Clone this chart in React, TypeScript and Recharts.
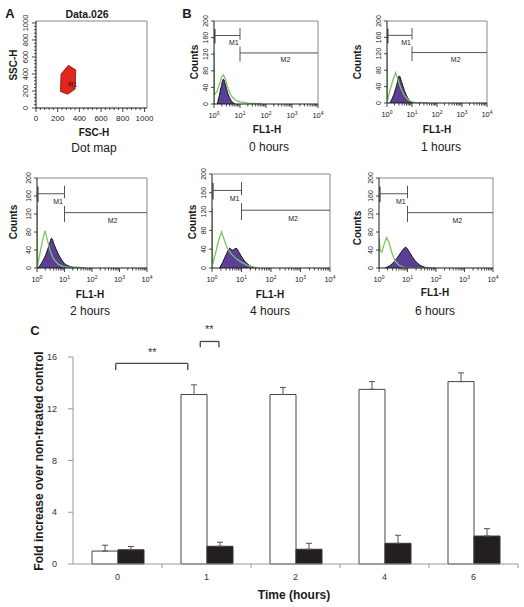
import React from 'react';
import {
  ComposedChart, Area, Line, Bar, Scatter, ErrorBar, XAxis, YAxis,
  ReferenceLine, ReferenceDot,
} from 'recharts';

const FONT = '"Liberation Sans", Arial, Helvetica, sans-serif';
const PURPLE = '#5a3e97';
const GREEN = '#7cc463';
const MARK = '#555';
const INK = '#1a1a1a';

// ---- panel A: gate R1 on FSC-H / SSC-H
const gateFsc = [299, 367, 360, 293, 225, 231, 299];
const gateSsc = [502, 447, 222, 163, 194, 400, 502];
const dotMajor = [0, 200, 400, 600, 800, 1000];
const dotMinor = [40, 80, 120, 160, 240, 280, 320, 360, 440, 480, 520, 560, 640, 680, 720, 760, 840, 880, 920, 960];

// ---- panel B: FL1-H histograms as [FL1-H, counts]
const fill0h = [[1.35, 0], [1.6, 20], [1.9, 42], [2.3, 60], [2.7, 48], [3.3, 28], [4.2, 12], [5.2, 4], [6.5, 0]];
const ctrl0h = [[1, 0], [1, 125], [1.04, 22], [1.3, 30], [1.7, 52], [2.0, 66], [2.3, 70], [2.7, 62], [3.3, 42], [4.2, 24], [5.5, 14], [7.5, 8], [10, 5], [20, 2], [40, 1], [70, 0]];
const fill1h = [[1.3, 0], [1.8, 18], [2.4, 42], [3.1, 66], [3.8, 52], [5, 30], [6.5, 14], [8.5, 4], [11, 0]];
const ctrl1h = [[1, 0], [1, 124], [1.04, 5], [1.3, 30], [1.7, 55], [2.2, 74], [2.7, 58], [3.5, 38], [5, 18], [7, 8], [10, 3], [15, 1], [44, 0]];
const fill2h = [[1.1, 0], [1.6, 15], [2.2, 33], [2.8, 52], [3.4, 66], [4.2, 52], [5.5, 35], [7.5, 20], [10, 10], [15, 4], [22, 1], [29, 0]];
const ctrl2h = [[1, 0], [1, 140], [1.05, 5], [1.3, 35], [1.6, 62], [1.95, 83], [2.4, 62], [3, 38], [4, 20], [6, 8], [9, 3], [13, 2], [30, 2], [56, 0]];
const fill4h = [[1.8, 0], [2.3, 12], [3, 28], [4, 42], [5, 38], [6.5, 42], [8.5, 32], [11, 20], [15, 10], [22, 3], [33, 0]];
const ctrl4h = [[1, 0], [1, 128], [1.05, 8], [1.3, 30], [1.7, 60], [2.1, 77], [2.6, 60], [3.3, 42], [4.5, 30], [6.5, 20], [10, 12], [15, 6], [25, 2], [36, 0]];
const fill6h = [[1.6, 0], [2.5, 6], [3.5, 15], [5, 28], [6.8, 40], [8.6, 46], [11, 38], [15, 24], [22, 11], [32, 4], [45, 1], [62, 0]];
const ctrl6h = [[1, 0], [1, 67], [1.1, 40], [1.25, 35], [1.5, 52], [1.85, 68], [2.2, 58], [2.8, 35], [3.6, 16], [5, 6], [8, 1], [20, 0], [92, 0]];
const countTicks = [0, 40, 80, 120, 160, 200];
const logMajor = [1, 10, 100, 1000, 10000];
const logMinor = [1, 10, 100, 1000].flatMap((d) => [2, 3, 4, 5, 6, 7, 8, 9].map((k) => k * d));
// markers M1 / M2 (FL1-H range, counts level)
const m1 = { from: 1.08, to: 10, level: 165, label: 'M1', lx: 5.8, ly: 147 };
const m2 = { from: 10, to: 10000, level: 123, label: 'M2', lx: 560, ly: 106 };

// ---- panel C
const times = ['0', '1', '2', '4', '6'];
const treated = [1.0, 13.1, 13.1, 13.5, 14.1];
const treatedErr = [0.45, 0.75, 0.55, 0.6, 0.67];
const blocked = [1.1, 1.37, 1.14, 1.6, 2.16];
const blockedErr = [0.25, 0.31, 0.46, 0.62, 0.57];
const foldTicks = [0, 4, 8, 12, 16];
const brackets = [
  { x1: 0.48, x2: 1.29, y: 15.5, drop: 0.5, sx: 0.89, sy: 16.35 },
  { x1: 1.43, x2: 1.64, y: 17.2, drop: 0.45, sx: 1.53, sy: 18.15 },
];

const toPts = (arr: number[][]) => arr.map(([x, n]) => ({ x, n }));

function Txt({ x, y, size, bold, rot, children }: any) {
  return (
    <div style={{
      position: 'absolute', left: x, top: y, fontFamily: FONT, fontSize: size,
      fontWeight: bold ? 'bold' : 'normal', color: INK, lineHeight: 1, whiteSpace: 'nowrap',
      transform: `translate(-50%, -50%)${rot ? ' rotate(-90deg)' : ''}`,
    }}>{children}</div>
  );
}

// label drawn at the centre of a reference dot
const centerText = (value: string, size: number, color: string) => (p: any) => {
  const vb = p.viewBox || {};
  const cx = (vb.x || 0) + (vb.width || 0) / 2;
  const cy = (vb.y || 0) + (vb.height || 0) / 2;
  return (
    <text x={cx} y={cy} dy={size * 0.35} textAnchor="middle" fontSize={size} fontFamily={FONT} fill={color}>
      {value}
    </text>
  );
};

function LogTick({ x, y, payload }: any) {
  const v = payload.value;
  const major = logMajor.includes(v);
  return (
    <g>
      <line x1={x} x2={x} y1={y} y2={y + (major ? 4 : 2.5)} stroke={INK} strokeWidth={0.8} />
      {major && (
        <text x={x} y={y + 14} textAnchor="middle" fontSize={7.5} fontFamily={FONT} fill={INK}>
          10<tspan dy={-3} fontSize={5}>{Math.round(Math.log10(v))}</tspan>
        </text>
      )}
    </g>
  );
}

function CountTick({ x, y, payload }: any) {
  return (
    <g>
      <line x1={x - 3} x2={x} y1={y} y2={y} stroke={INK} strokeWidth={0.8} />
      <text x={x - 6} y={y} transform={`rotate(-90 ${x - 6} ${y})`} textAnchor="middle"
        fontSize={7} fontFamily={FONT} fill={INK}>{payload.value}</text>
    </g>
  );
}

function DotXTick({ x, y, payload }: any) {
  const major = dotMajor.includes(payload.value);
  return (
    <g>
      <line x1={x} x2={x} y1={y} y2={y + (major ? 4 : 2)} stroke={INK} strokeWidth={0.8} />
      {major && <text x={x} y={y + 13} textAnchor="middle" fontSize={8} fontFamily={FONT} fill={INK}>{payload.value}</text>}
    </g>
  );
}

function DotYTick({ x, y, payload }: any) {
  const major = dotMajor.includes(payload.value);
  return (
    <g>
      <line x1={x - (major ? 4 : 2)} x2={x} y1={y} y2={y} stroke={INK} strokeWidth={0.8} />
      {major && <text x={x - 8} y={y} transform={`rotate(-90 ${x - 8} ${y})`} textAnchor="middle"
        fontSize={7.5} fontFamily={FONT} fill={INK}>{payload.value}</text>}
    </g>
  );
}

function Marker({ m }: any) {
  return (
    <>
      <ReferenceLine segment={[{ x: m.from, y: m.level }, { x: m.to, y: m.level }]} stroke={MARK} />
      <ReferenceDot x={m.lx} y={m.ly} r={0} fill="none" stroke="none" label={centerText(m.label, 7, INK)} />
    </>
  );
}

function Histo({ l, t, r, b, fill, ctrl }: any) {
  const W = r - l + 40;
  const H = b - t + 34;
  return (
    <div style={{ position: 'absolute', left: l - 28, top: t - 6 }}>
      <ComposedChart width={W} height={H} margin={{ top: 6, right: 12, bottom: 6, left: 8 }}>
        <XAxis dataKey="x" type="number" scale="log" domain={[1, 10000]} allowDataOverflow
          ticks={[...logMajor, ...logMinor]} interval={0} tick={LogTick} tickSize={0} tickMargin={0}
          tickLine={false} height={22} axisLine={{ stroke: INK }} />
        <YAxis type="number" domain={[0, 200]} allowDataOverflow ticks={countTicks} interval={0} tick={CountTick}
          tickSize={0} tickMargin={0} tickLine={false} width={20} axisLine={{ stroke: INK }} />
        <ReferenceLine y={200} stroke="#888" />
        <ReferenceLine x={10000} stroke="#888" />
        <Area data={toPts(fill)} dataKey="n" type="monotone" stroke="#111" strokeWidth={1}
          fill={PURPLE} fillOpacity={1} isAnimationActive={false} dot={false} />
        <Line data={toPts(ctrl)} dataKey="n" type="linear" stroke={GREEN} strokeWidth={1.3}
          dot={false} isAnimationActive={false} />
        <ReferenceLine segment={[{ x: m1.from, y: 146 }, { x: m1.from, y: 181 }]} stroke={MARK} strokeWidth={1.4} />
        <ReferenceLine segment={[{ x: m1.to, y: 155 }, { x: m1.to, y: 183 }]} stroke={MARK} />
        <ReferenceLine segment={[{ x: m2.from, y: 102 }, { x: m2.from, y: 138 }]} stroke={MARK} />
        <Marker m={m1} />
        <Marker m={m2} />
      </ComposedChart>
    </div>
  );
}

function DotMap() {
  const gate = gateFsc.map((x, i) => ({ x, y: gateSsc[i] }));
  return (
    <div style={{ position: 'absolute', left: 8, top: 15 }}>
      <ComposedChart width={147} height={113} margin={{ top: 6, right: 8, bottom: 4, left: 8 }}>
        <XAxis dataKey="x" type="number" domain={[0, 1023]} allowDataOverflow ticks={[...dotMajor, ...dotMinor]}
          interval={0} tick={DotXTick} tickSize={0} tickMargin={0} tickLine={false} height={16}
          axisLine={{ stroke: INK }} />
        <YAxis dataKey="y" type="number" domain={[0, 1023]} allowDataOverflow ticks={[...dotMajor, ...dotMinor]}
          interval={0} tick={DotYTick} tickSize={0} tickMargin={0} tickLine={false} width={20}
          axisLine={{ stroke: INK }} />
        <ReferenceLine y={1023} stroke="#888" />
        <ReferenceLine x={1023} stroke="#888" />
        <Scatter data={gate} line={{ fill: '#e2261d', stroke: '#7a1410', strokeWidth: 0.8 }}
          lineType="joint" shape={() => <g />} isAnimationActive={false} />
        <ReferenceDot x={339} y={272} r={0} fill="none" stroke="none" label={centerText('R1', 7, INK)} />
      </ComposedChart>
    </div>
  );
}

function FoldTick({ x, y, payload }: any) {
  return (
    <g>
      <line x1={x - 5} x2={x} y1={y} y2={y} stroke="#999" />
      <text x={x - 16} y={y + 3} textAnchor="end" fontSize={9} fontFamily={FONT} fill="#333">{payload.value}</text>
    </g>
  );
}

function TimeTick({ x, y, payload }: any) {
  const v = payload.value;
  if (Number.isInteger(v)) return <line x1={x} x2={x} y1={y} y2={y + 4} stroke="#999" />;
  return <text x={x} y={y + 16} textAnchor="middle" fontSize={9} fontFamily={FONT} fill="#333">{times[Math.floor(v)]}</text>;
}

function FoldChart() {
  // pos: centre of each time group on the numeric helper axis (group i spans i..i+1)
  const data = times.map((t, i) => ({
    t, pos: i + 0.5, w: treated[i], wErr: [0, treatedErr[i]], b: blocked[i], bErr: [0, blockedErr[i]],
  }));
  return (
    <div style={{ position: 'absolute', left: 0, top: 300 }}>
      <ComposedChart width={524} height={307} data={data} margin={{ top: 57, right: 6, bottom: 23, left: 43 }}
        barGap={0}>
        <XAxis dataKey="t" type="category" hide height={0} />
        <XAxis xAxisId="n" dataKey="pos" type="number" domain={[0, 5]} allowDataOverflow
          ticks={[0.5, 1, 1.5, 2, 2.5, 3, 3.5, 4, 4.5, 5]}
          interval={0} tick={TimeTick} tickSize={0} tickMargin={0} tickLine={false} height={20}
          axisLine={{ stroke: '#999' }} />
        <YAxis type="number" domain={[0, 16]} ticks={foldTicks} interval={0} tick={FoldTick}
          tickSize={0} tickMargin={0} tickLine={false} width={30} axisLine={{ stroke: '#999' }} />
        <Bar dataKey="w" barSize={26} fill="#fff" stroke="#444" strokeWidth={1} isAnimationActive={false}>
          <ErrorBar dataKey="wErr" width={3} stroke="#555" strokeWidth={1} />
        </Bar>
        <Bar dataKey="b" barSize={26} fill="#231f20" stroke="#333" strokeWidth={1} isAnimationActive={false}>
          <ErrorBar dataKey="bErr" width={3} stroke="#555" strokeWidth={1} />
        </Bar>
        {brackets.map((k, i) => (
          <React.Fragment key={i}>
            <ReferenceLine xAxisId="n" ifOverflow="visible" stroke="#444" strokeWidth={1.3}
              segment={[{ x: k.x1, y: k.y }, { x: k.x2, y: k.y }]} />
            <ReferenceLine xAxisId="n" ifOverflow="visible" stroke="#444" strokeWidth={1.3}
              segment={[{ x: k.x1, y: k.y }, { x: k.x1, y: k.y - k.drop }]} />
            <ReferenceLine xAxisId="n" ifOverflow="visible" stroke="#444" strokeWidth={1.3}
              segment={[{ x: k.x2, y: k.y }, { x: k.x2, y: k.y - k.drop }]} />
            <ReferenceDot xAxisId="n" x={k.sx} y={k.sy} r={0} fill="none" stroke="none" ifOverflow="visible"
              label={centerText('**', 11, '#333')} />
          </React.Fragment>
        ))}
      </ComposedChart>
    </div>
  );
}

export default function App() {
  return (
    <div style={{ position: 'absolute', left: 0, top: 0, width: 524, height: 607, background: '#fff' }}>
      <DotMap />
      <Histo l={214} t={21} r={318} b={104} fill={fill0h} ctrl={ctrl0h} />
      <Histo l={387} t={21} r={487} b={103} fill={fill1h} ctrl={ctrl1h} />
      <Histo l={37} t={178} r={147} b={268} fill={fill2h} ctrl={ctrl2h} />
      <Histo l={212} t={174} r={330} b={268} fill={fill4h} ctrl={ctrl4h} />
      <Histo l={379} t={178} r={493} b={268} fill={fill6h} ctrl={ctrl6h} />
      <FoldChart />

      <Txt x={10} y={13} size={13} bold>A</Txt>
      <Txt x={187} y={13} size={13} bold>B</Txt>
      <Txt x={35} y={330} size={13} bold>C</Txt>

      <Txt x={87} y={14} size={10.5} bold>Data.026</Txt>
      <Txt x={14} y={65} size={10} bold rot>SSC-H</Txt>
      <Txt x={94} y={133} size={10} bold>FSC-H</Txt>
      <Txt x={94} y={148} size={12}>Dot map</Txt>

      <Txt x={195} y={62} size={10} bold rot>Counts</Txt>
      <Txt x={267} y={130} size={10} bold>FL1-H</Txt>
      <Txt x={269} y={147} size={12}>0 hours</Txt>

      <Txt x={358} y={62} size={10} bold rot>Counts</Txt>
      <Txt x={437} y={130} size={10} bold>FL1-H</Txt>
      <Txt x={441} y={147} size={12}>1 hours</Txt>

      <Txt x={14} y={222} size={10} bold rot>Counts</Txt>
      <Txt x={90} y={295} size={10} bold>FL1-H</Txt>
      <Txt x={90} y={311} size={12}>2 hours</Txt>

      <Txt x={193} y={222} size={10} bold rot>Counts</Txt>
      <Txt x={270} y={295} size={10} bold>FL1-H</Txt>
      <Txt x={270} y={311} size={12}>4 hours</Txt>

      <Txt x={358} y={228} size={10} bold rot>Counts</Txt>
      <Txt x={435} y={293} size={10} bold>FL1-H</Txt>
      <Txt x={435} y={311} size={12}>6 hours</Txt>

      <Txt x={39} y={461} size={12} bold rot>Fold increase over non-treated control</Txt>
      <Txt x={294} y={595} size={12} bold>Time (hours)</Txt>
    </div>
  );
}
